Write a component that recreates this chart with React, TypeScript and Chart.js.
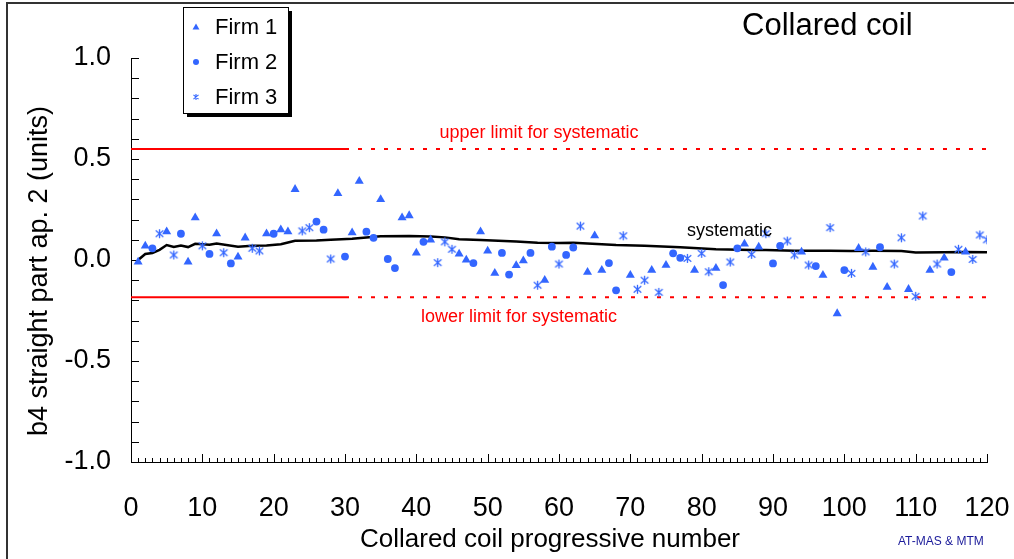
import React, { useEffect, useRef } from 'react';
import { Chart, registerables } from 'chart.js';

Chart.register(...registerables);

const FONT = '"Liberation Sans", Arial, Helvetica, sans-serif';
const BLUE = '#3366FF';

// Tick labels
const X_TICKS = [0, 10, 20, 30, 40, 50, 60, 70, 80, 90, 100, 110, 120];
const Y_TICKS = [-1.0, -0.5, 0.0, 0.5, 1.0];

// Firm 1 (triangles)
const FIRM1_X = [1, 2, 5, 8, 9, 12, 15, 16, 19, 21, 22, 23, 29, 31, 32, 35, 38, 39, 40, 42, 46, 47, 49, 50, 51, 54, 55, 58, 64, 65, 66, 70, 73, 75, 79, 82, 86, 88, 94, 97, 99, 102, 104, 106, 109, 112, 114, 117];
const FIRM1_Y = [-0.01, 0.07, 0.14, -0.01, 0.21, 0.13, 0.015, 0.11, 0.13, 0.15, 0.14, 0.35, 0.33, 0.135, 0.39, 0.30, 0.21, 0.22, 0.035, 0.10, 0.03, 0.0, 0.14, 0.045, -0.065, -0.027, -0.003, -0.10, -0.06, 0.12, -0.05, -0.075, -0.05, -0.026, -0.05, -0.04, 0.08, 0.065, 0.04, -0.075, -0.265, 0.058, -0.035, -0.135, -0.145, -0.05, 0.01, 0.04];

// Firm 2 (circles)
const FIRM2_X = [3, 7, 11, 14, 20, 26, 27, 30, 33, 34, 36, 37, 41, 48, 52, 53, 56, 59, 61, 62, 67, 68, 76, 77, 83, 85, 90, 91, 96, 100, 105, 115];
const FIRM2_Y = [0.058, 0.13, 0.03, -0.017, 0.13, 0.19, 0.15, 0.017, 0.14, 0.11, 0.005, -0.04, 0.09, -0.015, 0.035, -0.072, 0.035, 0.066, 0.025, 0.062, -0.015, -0.15, 0.033, 0.011, -0.124, 0.058, -0.017, 0.07, -0.03, -0.05, 0.063, -0.06];

// Firm 3 (asterisks)
const FIRM3_X = [4, 6, 10, 13, 17, 18, 24, 25, 28, 43, 44, 45, 57, 60, 63, 69, 71, 72, 74, 78, 80, 81, 84, 87, 89, 92, 93, 95, 98, 101, 103, 107, 108, 110, 111, 113, 116, 118, 119, 120];
const FIRM3_Y = [0.13, 0.025, 0.07, 0.036, 0.058, 0.045, 0.144, 0.16, 0.005, -0.013, 0.09, 0.053, -0.125, -0.02, 0.168, 0.12, -0.145, -0.10, -0.16, 0.008, 0.033, -0.058, -0.01, 0.028, 0.13, 0.094, 0.025, -0.025, 0.16, -0.066, 0.04, -0.02, 0.11, -0.18, 0.218, -0.02, 0.053, 0.003, 0.124, 0.10];

// Systematic (running) curve
const SYST_X = [1, 2, 3, 4, 5, 6, 7, 8, 9, 11, 12, 15, 17, 19, 21, 23, 26, 28, 31, 35, 39, 42, 44, 46, 49, 54, 57, 60, 62, 68, 72, 77, 82, 87, 89, 93, 98, 101, 104, 108, 110, 114, 117, 120];
const SYST_Y = [0.0, 0.03, 0.035, 0.05, 0.074, 0.064, 0.072, 0.064, 0.08, 0.075, 0.082, 0.066, 0.07, 0.072, 0.078, 0.095, 0.096, 0.1, 0.105, 0.118, 0.119, 0.116, 0.112, 0.103, 0.099, 0.091, 0.086, 0.084, 0.086, 0.074, 0.07, 0.063, 0.053, 0.05, 0.05, 0.046, 0.046, 0.045, 0.046, 0.045, 0.037, 0.038, 0.04, 0.038];

// Limits
const UPPER_LIMIT = 0.55;
const LOWER_LIMIT = -0.185;
const LIMIT_X = [0, 30, 120]; // solid from 0 to 30, dotted from 30 to 120

const zip = (xs: number[], ys: number[]) => xs.map((x, i) => ({ x, y: ys[i] }));

function makeStar(size: number, color: string, lw: number) {
  const c = document.createElement('canvas');
  c.width = size;
  c.height = size;
  const g = c.getContext('2d')!;
  g.strokeStyle = color;
  g.lineWidth = lw;
  const m = size / 2;
  const r = size / 2 - 1;
  const dx = r * 0.85;
  const dy = r * 0.7;
  g.beginPath();
  g.moveTo(m, m - r);
  g.lineTo(m, m + r);
  g.moveTo(m - dx, m - dy);
  g.lineTo(m + dx, m + dy);
  g.moveTo(m - dx, m + dy);
  g.lineTo(m + dx, m - dy);
  g.stroke();
  return c;
}

function drawTriangle(ctx: CanvasRenderingContext2D, x: number, y: number, r: number) {
  ctx.beginPath();
  for (let k = 0; k < 3; k++) {
    const a = -Math.PI / 2 + (k * 2 * Math.PI) / 3;
    const px = x + Math.cos(a) * r;
    const py = y + Math.sin(a) * r;
    if (k === 0) ctx.moveTo(px, py);
    else ctx.lineTo(px, py);
  }
  ctx.closePath();
  ctx.fill();
}

const decorPlugin = {
  id: 'decor',
  beforeDatasetsDraw(chart: any) {
    const { ctx, scales } = chart;
    const xs = scales.x;
    const ys = scales.y;
    const area = chart.chartArea;
    ctx.save();
    ctx.strokeStyle = '#000';
    ctx.lineWidth = 1;
    // inner x ticks
    for (let i = 0; i <= 120; i++) {
      const px = Math.round(xs.getPixelForValue(i)) + 0.5;
      const len = i % 10 === 0 ? 8 : 4;
      ctx.beginPath();
      ctx.moveTo(px, area.bottom);
      ctx.lineTo(px, area.bottom - len);
      ctx.stroke();
    }
    // inner y ticks
    for (let i = -10; i <= 10; i++) {
      const py = Math.round(ys.getPixelForValue(i / 10)) + 0.5;
      ctx.beginPath();
      ctx.moveTo(area.left, py);
      ctx.lineTo(area.left + 8, py);
      ctx.stroke();
    }
    ctx.restore();
  },
  afterDraw(chart: any) {
    const { ctx, scales } = chart;
    const ys = scales.y;
    const area = chart.chartArea;
    ctx.save();
    // outer frame (top and left)
    ctx.strokeStyle = '#333';
    ctx.lineWidth = 2;
    ctx.beginPath();
    ctx.moveTo(7, 560);
    ctx.lineTo(7, 3);
    ctx.lineTo(1014, 3);
    ctx.stroke();

    // y axis title
    ctx.save();
    ctx.translate(40, (area.top + area.bottom) / 2 + 11);
    ctx.rotate(-Math.PI / 2);
    ctx.fillStyle = '#000';
    ctx.font = `27px ${FONT}`;
    ctx.textAlign = 'center';
    ctx.textBaseline = 'middle';
    ctx.fillText('b4 straight part ap. 2 (units)', 0, 0);
    ctx.restore();

    // x axis title
    ctx.fillStyle = '#000';
    ctx.font = `26px ${FONT}`;
    ctx.textAlign = 'center';
    ctx.textBaseline = 'middle';
    ctx.fillText('Collared coil progressive number', 550, 540);

    // title
    ctx.font = `31px ${FONT}`;
    ctx.textAlign = 'left';
    ctx.fillText('Collared coil', 742, 26);

    // limit labels
    ctx.fillStyle = '#FF0000';
    ctx.font = `18px ${FONT}`;
    ctx.textAlign = 'center';
    ctx.fillText('upper limit for systematic', 539, ys.getPixelForValue(UPPER_LIMIT) - 16);
    ctx.fillText('lower limit for systematic', 519, ys.getPixelForValue(LOWER_LIMIT) + 20);

    // systematic label
    ctx.fillStyle = '#000';
    ctx.textAlign = 'left';
    ctx.fillText('systematic', 687, 231);

    // credit
    ctx.fillStyle = '#1a1a9a';
    ctx.font = `12px ${FONT}`;
    ctx.fillText('AT-MAS & MTM', 898, 542);

    // legend
    const lx = 183, ly = 7, lw = 105, lh = 106;
    ctx.fillStyle = '#000';
    ctx.fillRect(lx + 4, ly + 4, lw, lh);
    ctx.fillStyle = '#fff';
    ctx.fillRect(lx, ly, lw, lh);
    ctx.strokeStyle = '#000';
    ctx.lineWidth = 1;
    ctx.strokeRect(lx + 0.5, ly + 0.5, lw, lh);
    const rows = [27, 62, 97];
    const names = ['Firm 1', 'Firm 2', 'Firm 3'];
    ctx.fillStyle = BLUE;
    drawTriangle(ctx, 196, rows[0] + 0.5, 4);
    ctx.beginPath();
    ctx.arc(196, rows[1], 3, 0, Math.PI * 2);
    ctx.fill();
    const st = makeStar(8, BLUE, 1.1);
    ctx.drawImage(st, 192, rows[2] - 4);
    ctx.fillStyle = '#000';
    ctx.font = `22px ${FONT}`;
    ctx.textAlign = 'left';
    ctx.textBaseline = 'middle';
    names.forEach((n, i) => ctx.fillText(n, 215, rows[i] + 1));
    ctx.restore();
  },
};

export default function App() {
  const ref = useRef<HTMLCanvasElement | null>(null);

  useEffect(() => {
    if (!ref.current) return;
    const star = makeStar(11, BLUE, 1.3);
    const chart = new Chart(ref.current, {
      type: 'scatter',
      data: {
        datasets: [
          {
            label: 'Firm 1',
            data: zip(FIRM1_X, FIRM1_Y),
            pointStyle: 'triangle',
            pointRadius: 5.2,
            backgroundColor: BLUE,
            borderColor: BLUE,
            borderWidth: 0,
            showLine: false,
          },
          {
            label: 'Firm 2',
            data: zip(FIRM2_X, FIRM2_Y),
            pointStyle: 'circle',
            pointRadius: 3.9,
            backgroundColor: BLUE,
            borderColor: BLUE,
            borderWidth: 0,
            showLine: false,
          },
          {
            label: 'Firm 3',
            data: zip(FIRM3_X, FIRM3_Y),
            pointStyle: star as any,
            pointRadius: 5,
            backgroundColor: BLUE,
            borderColor: BLUE,
            showLine: false,
          },
          {
            label: 'systematic',
            data: zip(SYST_X, SYST_Y),
            showLine: true,
            borderColor: '#000',
            borderWidth: 2.5,
            pointRadius: 0,
            fill: false,
          },
          {
            label: 'upper solid',
            data: [{ x: LIMIT_X[0], y: UPPER_LIMIT }, { x: LIMIT_X[1], y: UPPER_LIMIT }],
            showLine: true,
            borderColor: '#FF0000',
            borderWidth: 2,
            pointRadius: 0,
          },
          {
            label: 'upper dotted',
            data: [{ x: LIMIT_X[1], y: UPPER_LIMIT }, { x: LIMIT_X[2], y: UPPER_LIMIT }],
            showLine: true,
            borderColor: '#FF0000',
            borderWidth: 2,
            borderDash: [4, 9],
            pointRadius: 0,
          },
          {
            label: 'lower solid',
            data: [{ x: LIMIT_X[0], y: LOWER_LIMIT }, { x: LIMIT_X[1], y: LOWER_LIMIT }],
            showLine: true,
            borderColor: '#FF0000',
            borderWidth: 2,
            pointRadius: 0,
          },
          {
            label: 'lower dotted',
            data: [{ x: LIMIT_X[1], y: LOWER_LIMIT }, { x: LIMIT_X[2], y: LOWER_LIMIT }],
            showLine: true,
            borderColor: '#FF0000',
            borderWidth: 2,
            borderDash: [4, 9],
            pointRadius: 0,
          },
        ],
      },
      options: {
        animation: false,
        responsive: false,
        maintainAspectRatio: false,
        events: [],
        layout: { padding: { top: 58, right: 27, left: 0, bottom: 0 } },
        plugins: {
          legend: { display: false },
          tooltip: { enabled: false },
          title: { display: false },
        },
        scales: {
          x: {
            type: 'linear',
            min: 0,
            max: 120,
            afterFit: (s: any) => {
              s.height = 97;
              s.paddingLeft = 0;
              s.paddingRight = 0;
            },
            afterBuildTicks: (s: any) => {
              s.ticks = X_TICKS.map((v) => ({ value: v }));
            },
            grid: { display: false, drawTicks: false },
            border: { display: true, color: '#000', width: 1 },
            ticks: {
              font: { family: FONT, size: 27 },
              color: '#000',
              padding: 30,
              maxRotation: 0,
              autoSkip: false,
              callback: (v: any) => String(v),
            },
            title: { display: false },
          },
          y: {
            type: 'linear',
            min: -1,
            max: 1,
            afterFit: (s: any) => {
              s.width = 131;
              s.paddingTop = 0;
              s.paddingBottom = 0;
            },
            afterBuildTicks: (s: any) => {
              s.ticks = Y_TICKS.map((v) => ({ value: v }));
            },
            grid: { display: false, drawTicks: false },
            border: { display: true, color: '#000', width: 1 },
            ticks: {
              font: { family: FONT, size: 27 },
              color: '#000',
              padding: 20,
              autoSkip: false,
              callback: (v: any) => Number(v).toFixed(1),
            },
            title: { display: false },
          },
        },
      },
      plugins: [decorPlugin],
    } as any);
    return () => chart.destroy();
  }, []);

  return (
    <div style={{ position: 'fixed', left: 0, top: 0, width: 1014, height: 559, background: '#fff' }}>
      <canvas ref={ref} width={1014} height={559} style={{ width: 1014, height: 559, display: 'block' }} />
    </div>
  );
}
